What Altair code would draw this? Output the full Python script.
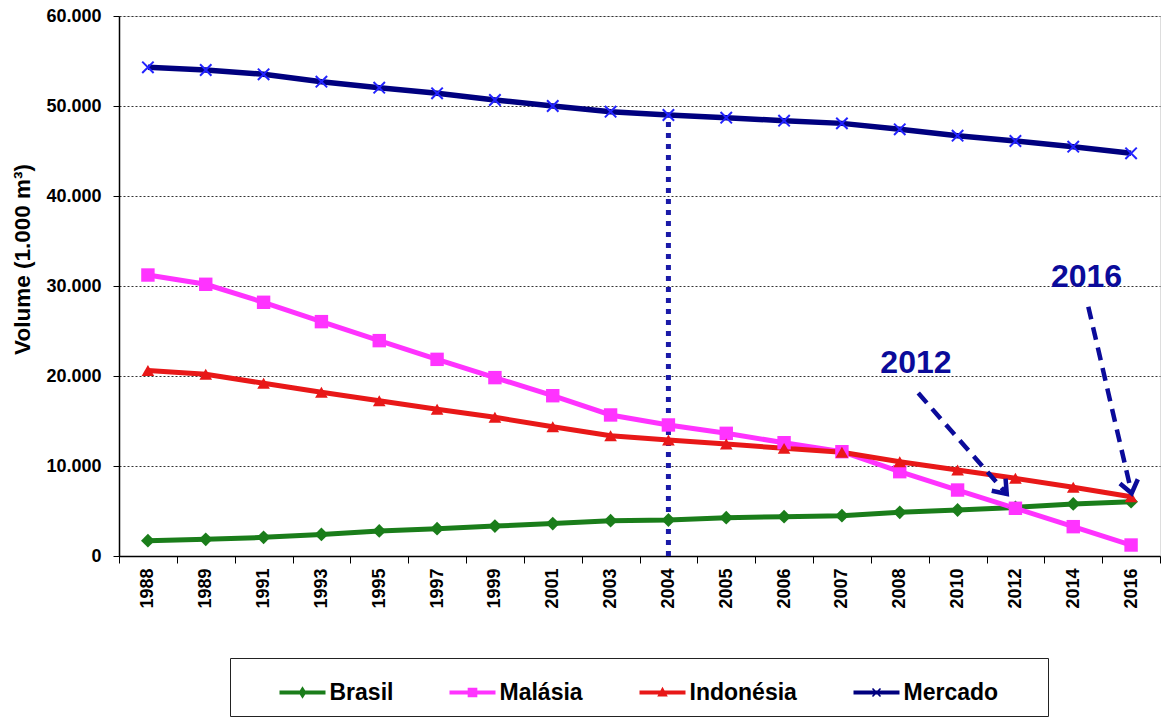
import math
import altair as alt
import pandas as pd

# ---------------- data ----------------
years = ["1988", "1989", "1991", "1993", "1995", "1997", "1999", "2001", "2003",
         "2004", "2005", "2006", "2007", "2008", "2010", "2012", "2014", "2016"]
series = ["Brasil", "Malásia", "Indonésia", "Mercado"]
brasil = [1700, 1850, 2070, 2400, 2780, 3040, 3330, 3600, 3930,
          4000, 4260, 4370, 4480, 4850, 5110, 5400, 5780, 6040]
malasia = [31220, 30190, 28190, 26040, 23930, 21850, 19820, 17810, 15670,
           14560, 13630, 12590, 11590, 9370, 7330, 5300, 3260, 1220]
indonesia = [20600, 20190, 19190, 18190, 17260, 16300, 15410, 14370, 13370,
             12890, 12440, 11960, 11520, 10480, 9560, 8630, 7630, 6590]
mercado = [54300, 54000, 53520, 52700, 52040, 51410, 50670, 50000, 49370,
           49000, 48700, 48370, 48070, 47410, 46700, 46110, 45480, 44740]
values = [brasil, malasia, indonesia, mercado]

line_colors = ["#1a7d1a", "#ff33ff", "#e81818", "#00007f"]
marker_colors = ["#1a7d1a", "#ff33ff", "#e81818", "#2323ff"]
ann_color = "#0b0b9a"

# annotations (x in category-index units, y in volume units)
ann_text = ["2012", "2016"]
ann_tx = [13.28, 16.23]
ann_ty = [21450, 31050]
arrow_x0 = [13.32, 16.26]
arrow_y0 = [18100, 27700]
arrow_x1 = [14.85, 17.01]
arrow_y1 = [6900, 6970]
vline_year = "2004"

# ---------------- layout constants ----------------
W, H = 1041, 540
YMAX = 60000
FONT = "Liberation Sans"

rows = []
for s, vals in zip(series, values):
    for i, (yr, v) in enumerate(zip(years, vals)):
        rows.append({"series": s, "idx": i, "year": yr, "value": v})
df = pd.DataFrame(rows)

px_per_idx = W / len(years)
px_per_val = H / YMAX
arrows = pd.DataFrame({
    "x0": arrow_x0, "y0": arrow_y0, "x1": arrow_x1, "y1": arrow_y1,
})
arrows["ang"] = [
    (-math.degrees(math.atan2((x1 - x0) * px_per_idx, (y0 - y1) * px_per_val))) % 360
    for x0, y0, x1, y1 in zip(arrow_x0, arrow_y0, arrow_x1, arrow_y1)
]
ann = pd.DataFrame({"text": ann_text, "x": ann_tx, "y": ann_ty})
vi = years.index(vline_year)
vline = pd.DataFrame({"idx": [vi], "y0": [0], "y1": [mercado[vi]]})

x_scale = alt.Scale(domain=[-0.5, len(years) - 0.5], nice=False, zero=False)
y_scale = alt.Scale(domain=[0, YMAX], nice=False)

label_expr = "[" + ",".join("'%s'" % y for y in years) + "][datum.value]"

x_main_axis = alt.Axis(
    orient="bottom",
    values=list(range(len(years))), labelExpr=label_expr, ticks=False,
    labelAngle=270, labelAlign="right", labelBaseline="middle",
    labelFont=FONT, labelFontSize=18, labelFontWeight="bold", labelColor="black",
    labelPadding=12, domainColor="black", domainWidth=1.5, grid=False, title=None,
    labelOverlap=False,
)
x_tick_axis = alt.Axis(
    orient="bottom",
    values=[i - 0.5 for i in range(len(years) + 1)], labels=False, ticks=True,
    tickSize=7, tickColor="black", tickWidth=1, domain=False, grid=False, title=None,
)
y_axis = alt.Axis(
    orient="left",
    values=list(range(0, YMAX + 1, 10000)),
    labelExpr="replace(format(datum.value, ','), ',', '.')",
    labelFont=FONT, labelFontSize=18, labelFontWeight="bold", labelColor="black",
    labelPadding=12, tickSize=6, tickColor="black", domainColor="black", domainWidth=1.5,
    grid=True, gridDash=[2, 2], gridColor="#333333", gridWidth=1,
    title="Volume (1.000 m³)", titleFont=FONT, titleFontSize=22.5, titleFontWeight="bold",
    titleColor="black", titleX=-97, titleY=243, titleAngle=270, titleAlign="center",
    titleBaseline="middle",
)

base = alt.Chart(df)

line_widths = [5, 5, 5, 5.5]
line_layers = []
for k, (s, col, lw) in enumerate(zip(series, line_colors, line_widths)):
    line_layers.append(
        base.transform_filter(alt.datum.series == s).mark_line(strokeWidth=lw, color=col).encode(
            x=alt.X("idx:Q", scale=x_scale, axis=x_main_axis if k == 0 else None),
            y=alt.Y("value:Q", scale=y_scale, axis=y_axis if k == 0 else None),
        )
    )

marker_shapes = ["diamond", "square", "triangle-up", "M-1,-1L1,1M-1,1L1,-1"]
marker_sizes = [190, 180, 160, 130]
marker_filled = [True, True, True, False]
point_layers = []
for s, shp, sz, fl, col in zip(series, marker_shapes, marker_sizes, marker_filled, marker_colors):
    point_layers.append(
        base.transform_filter(alt.datum.series == s).mark_point(
            shape=shp, size=sz, filled=fl, color=col, opacity=1,
            strokeWidth=2 if not fl else 1,
        ).encode(
            x=alt.X("idx:Q", scale=x_scale, axis=None),
            y=alt.Y("value:Q", scale=y_scale, axis=None),
        )
    )

# legend symbols: line segment + marker, as filled paths
bar = "M-1,-0.09L1,-0.09L1,0.09L-1,0.09Z"
legend_paths = [
    bar + "M0,-0.27L0.17,0L0,0.27L-0.17,0Z",
    bar + "M-0.21,-0.21L0.21,-0.21L0.21,0.21L-0.21,0.21Z",
    bar + "M0,-0.25L0.23,0.17L-0.23,0.17Z",
    bar + "M-0.2,-0.15L-0.15,-0.2L0.2,0.15L0.15,0.2ZM0.2,-0.15L-0.15,0.2L-0.2,0.15L0.15,-0.2Z",
]
NB = "\u00a0"
ZW = "\u200b"
leg = alt.Legend(
    orient="none", legendX=111, legendY=642, direction="horizontal",
    title=NB, titleOrient="left", titlePadding=38, titleFontSize=11,
    symbolSize=2116, symbolOpacity=1, symbolStrokeWidth=0,
    labelFont=FONT, labelFontSize=23, labelFontWeight="bold", labelColor="black",
    labelExpr="datum.label == '%s' ? datum.label + '%s' : datum.label" % (series[-1], NB * 6 + ZW),
    labelOffset=4, columnPadding=56, padding=11.5, strokeColor="#222222",
)
legend_layer = base.mark_point(filled=True, opacity=0).encode(
    x=alt.X("idx:Q", scale=x_scale, axis=None),
    y=alt.Y("value:Q", scale=y_scale, axis=None),
    color=alt.Color("series:N", scale=alt.Scale(domain=series, range=line_colors), legend=leg),
    shape=alt.Shape("series:N", scale=alt.Scale(domain=series, range=legend_paths), legend=leg),
)

vrule = alt.Chart(vline).mark_rule(strokeWidth=5, strokeDash=[5, 6], color="#1a1aa8").encode(
    x=alt.X("idx:Q", scale=x_scale, axis=x_tick_axis),
    y=alt.Y("y0:Q", scale=y_scale, axis=None),
    y2="y1:Q",
)

shafts = alt.Chart(arrows).mark_rule(strokeWidth=4.5, strokeDash=[13, 8], color=ann_color).encode(
    x=alt.X("x0:Q", scale=x_scale, axis=None),
    y=alt.Y("y0:Q", scale=y_scale, axis=None),
    x2="x1:Q",
    y2="y1:Q",
)
heads = alt.Chart(arrows).mark_point(
    shape="M-0.75,-1L0,0L0.75,-1", size=600, filled=False, strokeWidth=4.5,
    color=ann_color, opacity=1,
).encode(
    x=alt.X("x1:Q", scale=x_scale, axis=None),
    y=alt.Y("y1:Q", scale=y_scale, axis=None),
    angle=alt.Angle("ang:Q", scale=None),
)
texts = alt.Chart(ann).mark_text(
    font=FONT, fontSize=32, fontWeight="bold", color=ann_color, baseline="middle", align="center",
).encode(
    x=alt.X("x:Q", scale=x_scale, axis=None),
    y=alt.Y("y:Q", scale=y_scale, axis=None),
    text="text:N",
)

chart = alt.layer(
    *line_layers, vrule, *point_layers, legend_layer, shafts, heads, texts
).resolve_axis(x="independent", y="independent").properties(
    width=W, height=H,
    autosize=alt.AutoSizeParams(type="none"),
    padding={"left": 119, "top": 16, "right": 5, "bottom": 161},
).configure_view(stroke="#808080", strokeWidth=1).configure(background="white")

chart.save("out.html", embed_options={"renderer": "svg", "actions": False})
